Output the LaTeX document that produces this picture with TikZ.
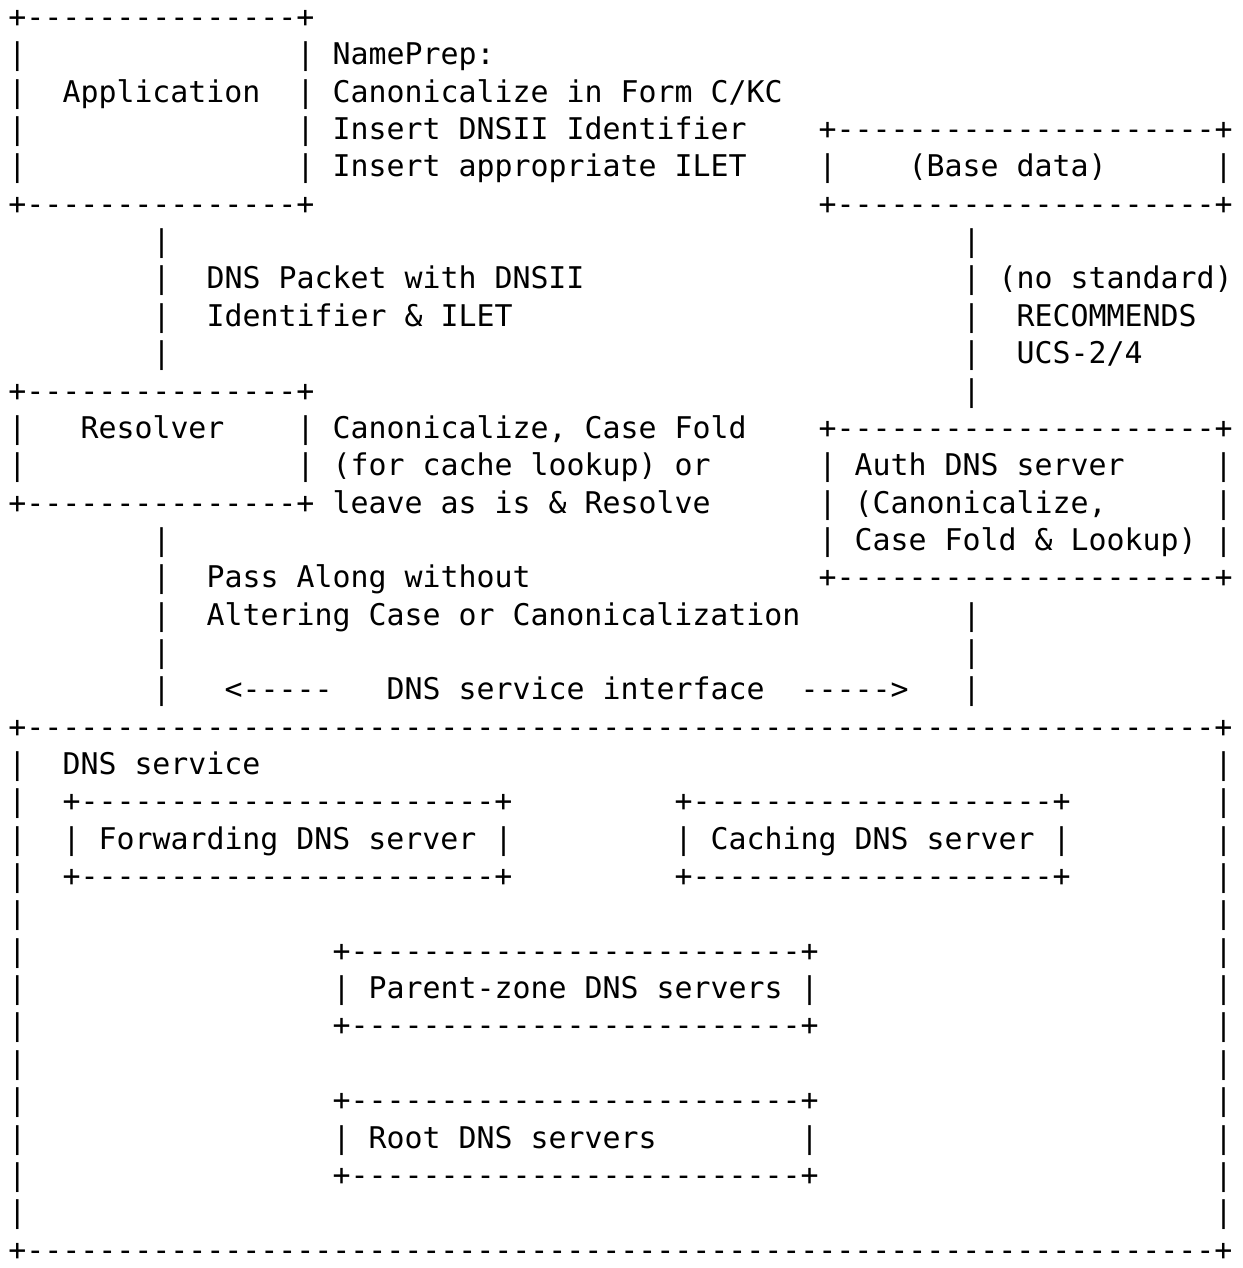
\documentclass[tikz,border=0pt]{standalone}
\usepackage{fontspec}
\setmonofont{DejaVu Sans Mono}
\def\repdash#1{\ifnum#1>0 -\expandafter\repdash\expandafter{\the\numexpr#1-1\relax}\fi}
\newcommand\bx[1]{+\repdash{#1}+}
\tikzset{
  txt/.style={anchor=base west, inner sep=0pt, outer sep=0pt,
    font=\ttfamily\fontsize{29.9pt}{37.35pt}\selectfont, text=black},
}
\newcommand\T[3]{\node[txt] (r#1c#2) at ({8.5pt+18pt*#2},{-27.5pt-37.35pt*#1}) {#3};}
\begin{document}
\begin{tikzpicture}
\fill[white] (0,0) rectangle (1242pt,-1268pt);
\useasboundingbox (0,0) rectangle (1242pt,-1268pt);
% Application block
\T{0}{0}{\bx{15}}
\T{1}{0}{|}\T{1}{16}{|}\T{1}{18}{NamePrep:}
\T{2}{0}{|}\T{2}{3}{Application}\T{2}{16}{|}\T{2}{18}{Canonicalize in Form C/KC}
\T{3}{0}{|}\T{3}{16}{|}\T{3}{18}{Insert DNSII Identifier}\T{3}{45}{\bx{21}}
\T{4}{0}{|}\T{4}{16}{|}\T{4}{18}{Insert appropriate ILET}\T{4}{45}{|}\T{4}{50}{(Base data)}\T{4}{67}{|}
\T{5}{0}{\bx{15}}\T{5}{45}{\bx{21}}
% link rows
\T{6}{8}{|}\T{6}{53}{|}
\T{7}{8}{|}\T{7}{11}{DNS Packet with DNSII}\T{7}{53}{|}\T{7}{55}{(no standard)}
\T{8}{8}{|}\T{8}{11}{Identifier \& ILET}\T{8}{53}{|}\T{8}{56}{RECOMMENDS}
\T{9}{8}{|}\T{9}{53}{|}\T{9}{56}{UCS-2/4}
% Resolver block
\T{10}{0}{\bx{15}}\T{10}{53}{|}
\T{11}{0}{|}\T{11}{4}{Resolver}\T{11}{16}{|}\T{11}{18}{Canonicalize, Case Fold}\T{11}{45}{\bx{21}}
\T{12}{0}{|}\T{12}{16}{|}\T{12}{18}{(for cache lookup) or}\T{12}{45}{|}\T{12}{47}{Auth DNS server}\T{12}{67}{|}
\T{13}{0}{\bx{15}}\T{13}{18}{leave as is \& Resolve}\T{13}{45}{|}\T{13}{47}{(Canonicalize,}\T{13}{67}{|}
\T{14}{8}{|}\T{14}{45}{|}\T{14}{47}{Case Fold \& Lookup)}\T{14}{67}{|}
\T{15}{8}{|}\T{15}{11}{Pass Along without}\T{15}{45}{\bx{21}}
\T{16}{8}{|}\T{16}{11}{Altering Case or Canonicalization}\T{16}{53}{|}
\T{17}{8}{|}\T{17}{53}{|}
\T{18}{8}{|}\T{18}{12}{<-----}\T{18}{21}{DNS service interface}\T{18}{44}{----->}\T{18}{53}{|}
% DNS service block
\T{19}{0}{\bx{66}}
\T{20}{0}{|}\T{20}{3}{DNS service}\T{20}{67}{|}
\T{21}{0}{|}\T{21}{3}{\bx{23}}\T{21}{37}{\bx{20}}\T{21}{67}{|}
\T{22}{0}{|}\T{22}{3}{|}\T{22}{5}{Forwarding DNS server}\T{22}{27}{|}\T{22}{37}{|}\T{22}{39}{Caching DNS server}\T{22}{58}{|}\T{22}{67}{|}
\T{23}{0}{|}\T{23}{3}{\bx{23}}\T{23}{37}{\bx{20}}\T{23}{67}{|}
\T{24}{0}{|}\T{24}{67}{|}
\T{25}{0}{|}\T{25}{18}{\bx{25}}\T{25}{67}{|}
\T{26}{0}{|}\T{26}{18}{|}\T{26}{20}{Parent-zone DNS servers}\T{26}{44}{|}\T{26}{67}{|}
\T{27}{0}{|}\T{27}{18}{\bx{25}}\T{27}{67}{|}
\T{28}{0}{|}\T{28}{67}{|}
\T{29}{0}{|}\T{29}{18}{\bx{25}}\T{29}{67}{|}
\T{30}{0}{|}\T{30}{18}{|}\T{30}{20}{Root DNS servers}\T{30}{44}{|}\T{30}{67}{|}
\T{31}{0}{|}\T{31}{18}{\bx{25}}\T{31}{67}{|}
\T{32}{0}{|}\T{32}{67}{|}
\T{33}{0}{\bx{66}}
\end{tikzpicture}
\end{document}
